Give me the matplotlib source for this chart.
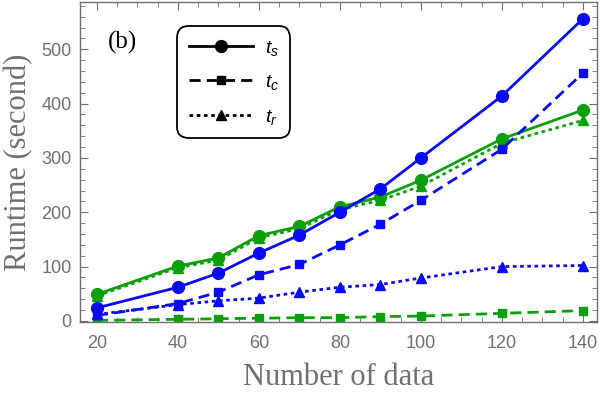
import matplotlib.pyplot as plt
from matplotlib.ticker import MultipleLocator
from matplotlib.lines import Line2D

# data
n_data = [20, 40, 50, 60, 70, 80, 90, 100, 120, 140]

blue_ts = [24, 62, 88, 125, 158, 200, 243, 300, 414, 556]
blue_tc = [10, 32, 53, 85, 104, 140, 178, 222, 316, 456]
blue_tr = [12, 30, 37, 42, 53, 62, 67, 79, 100, 102]

green_ts = [49, 101, 116, 157, 174, 210, 228, 259, 335, 388]
green_tc = [1, 3, 4, 5, 6, 6, 8, 9, 14, 19]
green_tr = [46, 98, 112, 153, 170, 205, 222, 248, 327, 369]

blue = '#0a0af5'
green = '#0aa00a'
gray = '#707070'

plt.rcParams['mathtext.fontset'] = 'custom'
plt.rcParams['mathtext.it'] = 'Liberation Sans:italic'
plt.rcParams['mathtext.rm'] = 'Liberation Sans'

fig = plt.figure(figsize=(6, 3.94), dpi=100)
ax = fig.add_axes([0.1333, 0.1827, 0.8617, 0.8123])

lw = 2.0
for c, ts, tc, tr in [(green, green_ts, green_tc, green_tr),
                      (blue, blue_ts, blue_tc, blue_tr)]:
    ax.plot(n_data, ts, '-', color=c, lw=lw, marker='o', ms=8.5)
    ax.plot(n_data, tc, color=c, lw=lw, ls=(0, (4, 2.2)), marker='s', ms=6)
    ax.plot(n_data, tr, color=c, lw=lw, ls=(0, (1.3, 1.3)), marker='^', ms=7)

ax.set_xlim(15.8, 143.5)
ax.set_ylim(-2, 587)

ax.xaxis.set_major_locator(MultipleLocator(20))
ax.xaxis.set_minor_locator(MultipleLocator(5))
ax.yaxis.set_major_locator(MultipleLocator(100))
ax.yaxis.set_minor_locator(MultipleLocator(20))
ax.tick_params(which='both', direction='in', top=True, right=True,
               color=gray, labelcolor=gray)
ax.tick_params(which='major', length=6, width=0.8, labelsize=13)
ax.tick_params(axis='x', which='major', pad=9)
ax.tick_params(axis='y', which='major', pad=6)
ax.tick_params(which='minor', length=3.5, width=0.6)
for lab in ax.get_xticklabels() + ax.get_yticklabels():
    lab.set_family('Liberation Sans')
for sp in ax.spines.values():
    sp.set_color(gray)
    sp.set_linewidth(1.0)

ax.set_xlabel('Number of data', family='Liberation Serif', fontsize=22,
              color=gray, labelpad=8)
ax.set_ylabel('Runtime (second)', family='Liberation Serif', fontsize=22,
              color=gray, labelpad=6)

ax.text(0.054, 0.875, '(b)', transform=ax.transAxes, family='Liberation Serif',
        fontsize=18, color='black', va='center', ha='left')

handles = [
    Line2D([], [], color='black', lw=lw, marker='o', ms=8.5),
    Line2D([], [], color='black', lw=lw, ls=(0, (4, 2.2)), marker='s', ms=6),
    Line2D([], [], color='black', lw=lw, ls=(0, (1.3, 1.3)), marker='^', ms=7),
]
leg = ax.legend(handles, ['$t_s$', '$t_c$', '$t_r$'], loc='upper left',
                bbox_to_anchor=(0.188, 0.925), fontsize=14, handlelength=3.3,
                labelspacing=0.75, borderpad=0.6, handletextpad=0.6,
                borderaxespad=0, fancybox=True, framealpha=1,
                edgecolor='black')
leg.get_frame().set_linewidth(1.3)
leg.get_frame().set_boxstyle('round', pad=0, rounding_size=0.6)

fig.savefig('out.png', dpi=100)
